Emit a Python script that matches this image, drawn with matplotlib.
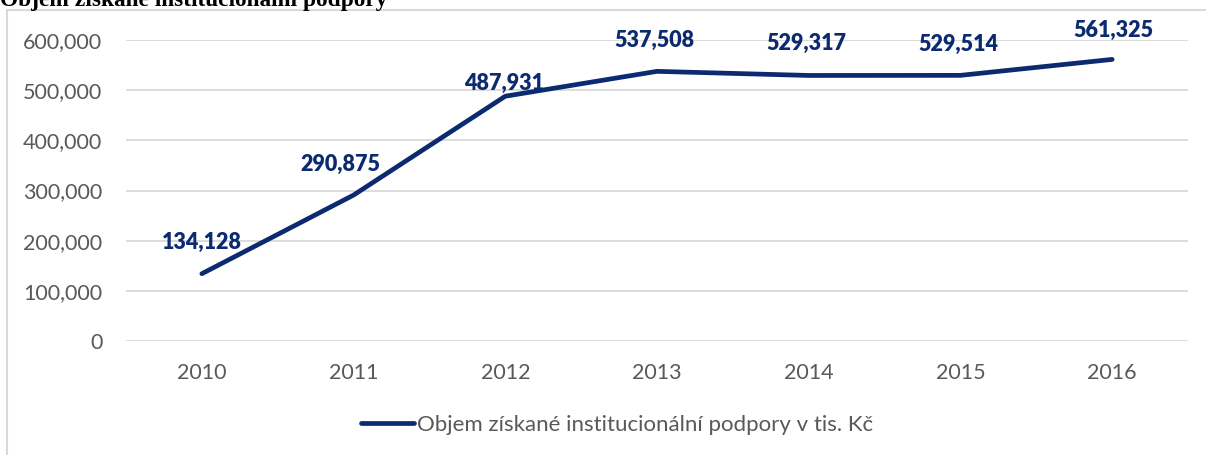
import matplotlib.pyplot as plt
from matplotlib.patches import Rectangle
from matplotlib.ticker import FuncFormatter

years = ["2010", "2011", "2012", "2013", "2014", "2015", "2016"]
support = [134128, 290875, 487931, 537508, 529317, 529514, 561325]
series_name = "Objem získané institucionální podpory v tis. Kč"
title = "Objem získané institucionální podpory"

navy = "#0B2A6F"
grey_text = "#595959"
grid_col = "#D9D9D9"

plt.rcParams["font.family"] = ["Lato", "DejaVu Sans"]

fig = plt.figure(figsize=(12.06, 4.55), dpi=100)
fig.patches.append(Rectangle((7 / 1206, -0.1), 1.2, (455 - 10) / 455 + 0.1,
                             transform=fig.transFigure, fill=False,
                             edgecolor=grid_col, linewidth=1.5))
fig.text(0.0, (455 - 6) / 455, title, family="Liberation Serif",
         fontweight="bold", fontsize=16.8, va="baseline", ha="left")

ax = fig.add_axes([126 / 1206, 114 / 455, 1062 / 1206, 301 / 455])
x = list(range(len(years)))
line, = ax.plot(x, support, color=navy, linewidth=3.4, solid_capstyle="round",
                label=series_name, zorder=3)

# label offsets in pixels (Excel moves some of them)
offsets = [(0, 31), (-13, 31), (-1, 13), (-3, 31), (-2, 32), (-2, 31), (1, 29)]
for xi, v, (dx, dy) in zip(x, support, offsets):
    ax.annotate(f"{v:,}", (xi, v), xytext=(dx * 0.72, dy * 0.72),
                textcoords="offset points", ha="center", va="center",
                fontsize=15.5, fontweight="heavy", color=navy)

ax.set_xlim(-0.5, len(years) - 0.5)
ax.set_ylim(0, 600000)
ax.set_yticks(range(0, 600001, 100000))
ax.yaxis.set_major_formatter(FuncFormatter(lambda v, p: f"{int(v):,}"))
ax.set_xticks(x)
ax.set_xticklabels(years)
ax.grid(axis="y", color=grid_col, linewidth=1.3)
ax.set_axisbelow(True)
for s in ax.spines.values():
    s.set_visible(False)
ax.tick_params(length=0, colors=grey_text, labelsize=15.5)
ax.tick_params(axis="y", pad=17)
ax.tick_params(axis="x", pad=16)

leg = fig.legend(handles=[line], loc="center", bbox_to_anchor=(617 / 1206, (455 - 425) / 455),
                 frameon=False, fontsize=16, handlelength=2.4, handletextpad=0.1)
for t in leg.get_texts():
    t.set_color(grey_text)

fig.savefig("out.png", dpi=100)
